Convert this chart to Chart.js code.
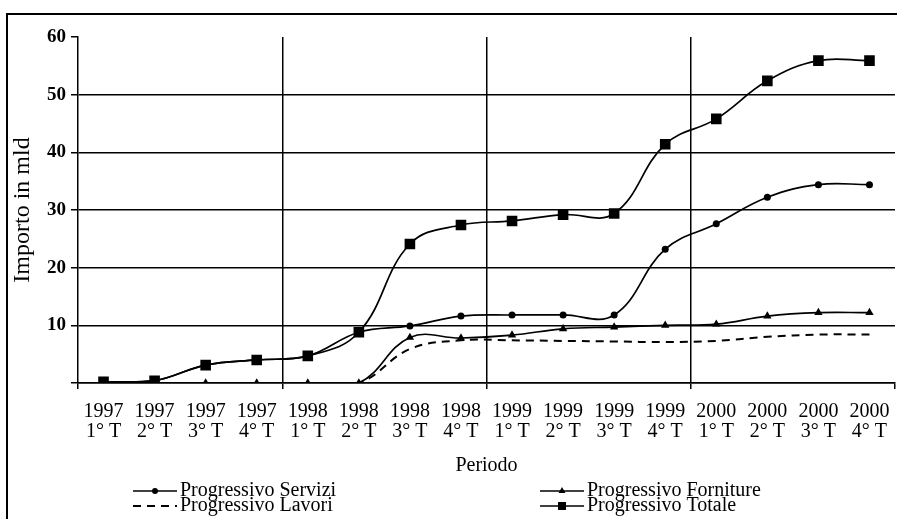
<!DOCTYPE html>
<html>
<head>
<meta charset="utf-8">
<script src="https://cdn.jsdelivr.net/npm/chart.js@4/dist/chart.umd.min.js"></script>
<style>
html,body{margin:0;padding:0;background:#fff;}
canvas{display:block;}
</style>
</head>
<body>
<canvas id="c" width="897" height="519"></canvas>
<script>
// ---- data ----
const years = ['1997','1997','1997','1997','1998','1998','1998','1998','1999','1999','1999','1999','2000','2000','2000','2000'];
const quarters = ['1° T','2° T','3° T','4° T','1° T','2° T','3° T','4° T','1° T','2° T','3° T','4° T','1° T','2° T','3° T','4° T'];
const yTicks = [0, 10, 20, 30, 40, 50, 60];
const seriesNames = ['Progressivo Servizi','Progressivo Forniture','Progressivo Lavori','Progressivo Totale'];
const servizi   = [0.2, 0.4, 3.1, 4.0, 4.7, 8.8, 9.9, 11.6, 11.8, 11.8, 11.8, 23.2, 27.6, 32.2, 34.4, 34.4];
const forniture = [0, 0, 0, 0, 0, 0, 7.9, 7.8, 8.3, 9.4, 9.7, 10.0, 10.2, 11.6, 12.2, 12.2];
const lavori    = [0, 0, 0, 0, 0, 0, 5.9, 7.4, 7.4, 7.3, 7.2, 7.1, 7.3, 8.0, 8.4, 8.4];
const totale    = [0.2, 0.4, 3.1, 4.0, 4.7, 8.8, 24.1, 27.4, 28.1, 29.2, 29.4, 41.4, 45.8, 52.4, 55.9, 55.9];

const categories = years.map((y, i) => [y, quarters[i]]);
const SERIF = '"Liberation Serif", "Times New Roman", serif';

const frame = {
  id: 'frame',
  beforeDraw(chart) {
    const ctx = chart.ctx;
    ctx.save();
    ctx.fillStyle = '#000';
    ctx.fillRect(6, 13, 2, 506);
    ctx.fillRect(6, 13, 891, 2);
    ctx.restore();
  }
};

const legendPos = [
  {x: 133, y: 491}, {x: 540, y: 491}, {x: 133, y: 506}, {x: 540, y: 506}
];
function marker(ctx, style, x, y, r) {
  ctx.beginPath();
  if (style === 'circle') {
    ctx.arc(x, y, r, 0, Math.PI * 2);
  } else if (style === 'triangle') {
    ctx.moveTo(x, y - r);
    ctx.lineTo(x + r * 0.866, y + r * 0.5);
    ctx.lineTo(x - r * 0.866, y + r * 0.5);
    ctx.closePath();
  } else if (style === 'rect') {
    ctx.rect(x - r, y - r, 2 * r, 2 * r);
  }
  ctx.fill();
}
const customLegend = {
  id: 'customLegend',
  afterDraw(chart) {
    const ctx = chart.ctx;
    ctx.save();
    chart.data.datasets.forEach((ds, i) => {
      const p = legendPos[i];
      ctx.strokeStyle = '#000';
      ctx.fillStyle = '#000';
      ctx.lineWidth = ds.borderWidth;
      ctx.setLineDash(ds.borderDash || []);
      ctx.beginPath();
      ctx.moveTo(p.x, p.y);
      ctx.lineTo(p.x + 44, p.y);
      ctx.stroke();
      ctx.setLineDash([]);
      if (ds.pointRadius > 0) {
        const lr = ds.pointStyle === 'rect' ? 4 : (ds.pointStyle === 'triangle' ? 4 : 3);
        marker(ctx, ds.pointStyle, p.x + 22, p.y, lr);
      }
      ctx.font = '20px ' + SERIF;
      ctx.textBaseline = 'middle';
      ctx.textAlign = 'left';
      ctx.fillText(ds.label, p.x + 47, p.y);
    });
    ctx.restore();
  }
};

const lineCommon = {
  borderColor: '#000',
  backgroundColor: '#000',
  pointBackgroundColor: '#000',
  pointBorderColor: '#000',
  pointBorderWidth: 0,
  borderWidth: 1.7,
  tension: 0.4,
  fill: false
};

new Chart(document.getElementById('c'), {
  type: 'line',
  data: {
    labels: categories,
    datasets: [
      Object.assign({}, lineCommon, {label: seriesNames[0], data: servizi, pointStyle: 'circle', pointRadius: 3.5}),
      Object.assign({}, lineCommon, {label: seriesNames[1], data: forniture, pointStyle: 'triangle', pointRadius: 4.8}),
      Object.assign({}, lineCommon, {label: seriesNames[2], data: lavori, pointStyle: 'circle', pointRadius: 0, borderDash: [8, 6], borderWidth: 2}),
      Object.assign({}, lineCommon, {label: seriesNames[3], data: totale, pointStyle: 'rect', pointRadius: 7.5})
    ]
  },
  options: {
    responsive: false,
    animation: false,
    devicePixelRatio: 1,
    events: [],
    layout: {autoPadding: false, padding: {top: 37, left: 0, right: 2, bottom: 40}},
    plugins: {legend: {display: false}, tooltip: {enabled: false}},
    scales: {
      x: {
        type: 'category',
        offset: true,
        grid: {
          offset: true,
          lineWidth: 1.5,
          tickLength: 6,
          color: (c) => (c.index !== undefined && c.index > 0 && c.index % 4 === 0) ? '#000' : 'rgba(0,0,0,0)',
          tickColor: (c) => (c.index === undefined || c.index % 4 === 0) ? '#000' : 'rgba(0,0,0,0)'
        },
        border: {color: '#000', width: 1.5},
        ticks: {
          color: '#000',
          font: {family: SERIF, size: 20, lineHeight: 1.0},
          padding: 13,
          maxRotation: 0,
          autoSkip: false
        },
        title: {display: true, text: 'Periodo', color: '#000', font: {family: SERIF, size: 20}, padding: {top: 0, bottom: 1.5}},
        afterFit: (s) => { s.height = 96; s.paddingLeft = 0; s.paddingRight = 0; }
      },
      y: {
        min: 0,
        max: 60,
        afterBuildTicks: (s) => { s.ticks = yTicks.map(v => ({value: v})); },
        grid: {
          lineWidth: 1.5,
          tickLength: 7,
          color: (c) => (c.tick && c.tick.value === 60) ? 'rgba(0,0,0,0)' : '#000',
          tickColor: '#000'
        },
        border: {color: '#000', width: 1.5},
        ticks: {
          color: '#000',
          font: {family: SERIF, size: 19, weight: 'bold'},
          padding: 5,
          callback: (v) => v === 0 ? '' : String(v)
        },
        title: {display: true, text: 'Importo in mld', color: '#000', font: {family: SERIF, size: 24}, padding: {top: 8, bottom: 0}},
        afterFit: (s) => { s.width = 78; s.paddingTop = 0; s.paddingBottom = 0; }
      }
    }
  },
  plugins: [frame, customLegend]
});
</script>
</body>
</html>
